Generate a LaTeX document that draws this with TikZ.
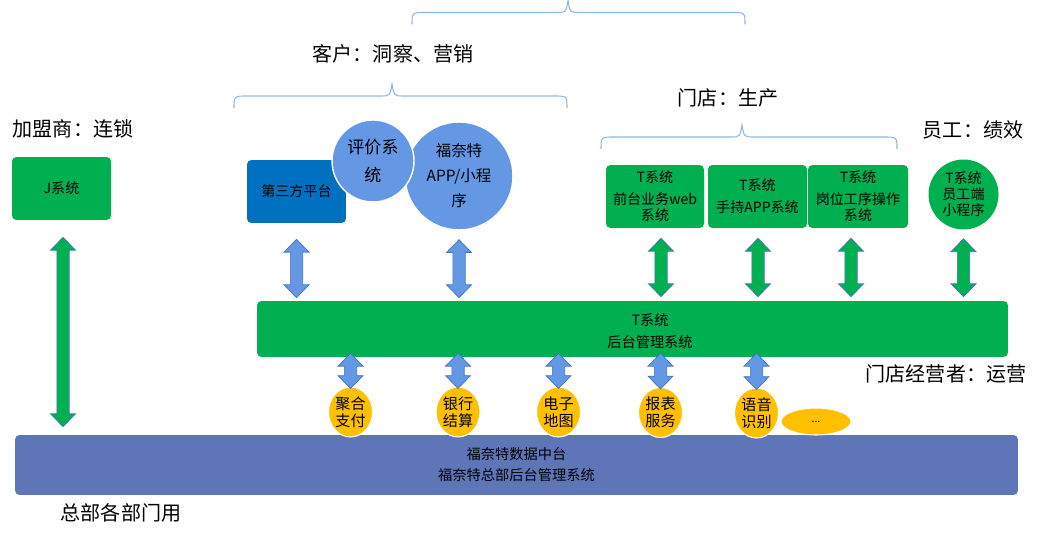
\documentclass[tikz,border=0pt]{standalone}
\usepackage{fontspec}
\setmainfont{Noto Sans CJK SC}
\usetikzlibrary{shapes,calc}

\definecolor{tgreen}{RGB}{0,176,80}
\definecolor{tpblue}{RGB}{0,112,192}
\definecolor{lightblue}{RGB}{100,152,228}
\definecolor{oyellow}{RGB}{255,192,0}
\definecolor{dataviolet}{RGB}{94,117,183}
\definecolor{arrline}{RGB}{68,114,196}
\definecolor{bracecol}{RGB}{143,180,235}

\newcommand{\arrhw}{7.1pt}
\newcommand{\arrhl}{7.3pt}
\newcommand{\arrsw}{3.5pt}

% double block arrow, x taken from the first point
\newcommand{\dblarrow}[3]{%
  \draw[blockarrow, fill=#3] let \p1=(#1), \p2=(#2) in
    (\x1,\y1) -- (\x1+\arrhw,\y1-\arrhl) -- (\x1+\arrsw,\y1-\arrhl) -- (\x1+\arrsw,\y2+\arrhl)
    -- (\x1+\arrhw,\y2+\arrhl) -- (\x1,\y2) -- (\x1-\arrhw,\y2+\arrhl) -- (\x1-\arrsw,\y2+\arrhl)
    -- (\x1-\arrsw,\y1-\arrhl) -- (\x1-\arrhw,\y1-\arrhl) -- cycle;}

% brace opening downwards: left x, right x, tip x, tip y
\newcommand{\topbrace}[4]{%
  \draw[bracestyle] (#1,#4+24) .. controls (#1,#4+12) .. (#1+14,#4+12) -- (#3-12,#4+12)
    .. controls (#3-2,#4+12) .. (#3,#4) .. controls (#3+2,#4+12) .. (#3+12,#4+12)
    -- (#2-14,#4+12) .. controls (#2,#4+12) .. (#2,#4+24);}

\tikzset{
  headtext/.style={font=\fontsize{11.4}{14}\selectfont},
  sysbox/.style={rectangle, rounded corners=2.5pt, fill=tgreen, minimum height=1.26cm,
    inner sep=1pt, align=center, font=\fontsize{8}{9.1}\selectfont},
  bluecircle/.style={circle, fill=lightblue, draw=white, line width=0.8pt, inner sep=0pt, align=center},
  tband/.style={rectangle, rounded corners=2.5pt, fill=tgreen, minimum width=15.02cm, minimum height=1.12cm},
  bandtext/.style={align=center, font=\fontsize{8.1}{12.5}\selectfont},
  databand/.style={rectangle, rounded corners=2.5pt, fill=dataviolet, minimum width=20.06cm,
    minimum height=1.2cm, align=center, font=\fontsize{8.1}{12}\selectfont},
  service/.style={ellipse, fill=oyellow, draw=white, line width=0.6pt, inner sep=0pt,
    minimum width=0.88cm, minimum height=1cm, align=center, font=\fontsize{8.6}{9.7}\selectfont},
  blockarrow/.style={draw=arrline, line width=0.4pt},
  bracestyle/.style={draw=bracecol, line width=0.6pt}
}

\begin{document}
\begin{tikzpicture}[x=0.02cm, y=-0.02cm]
\useasboundingbox (0,0) rectangle (1053,536);

% Braces
\topbrace{412}{745}{568}{0.5}
\topbrace{234}{567}{392}{84}
\topbrace{601}{897}{742}{125}

% Headings
\node[headtext] (jms) at (73,129) {加盟商：连锁};
\node[headtext] (kehu) at (393,54) {客户：洞察、营销};
\node[headtext] (mendian) at (728,98) {门店：生产};
\node[headtext] (yuangong) at (973,130) {员工：绩效};
\node[headtext] (jingying) at (946,374) {门店经营者：运营};
\node[headtext] (zongbu) at (121,513) {总部各部门用};

% Place nodes
\node[sysbox, minimum width=1.98cm] (j) at (61.5,188.5) {J系统};
\node[sysbox, fill=tpblue, minimum width=1.98cm] (tp) at (296.5,191.5) {第三方平台};
\node[bluecircle, minimum size=2.16cm, font=\fontsize{8.8}{14.2}\selectfont] (app) at (459,176) {福奈特\\APP/小程\\序};
\node[bluecircle, minimum size=1.64cm, font=\fontsize{9.7}{15.4}\selectfont] (pj) at (373,161) {评价系\\统};

\node[sysbox, minimum width=1.96cm] (b1) at (655,196.5) {T系统\\[3.4pt]前台业务web\\系统};
\node[sysbox, minimum width=1.98cm] (b2) at (757.5,196.5) {T系统\\[3.4pt]手持APP系统};
\node[sysbox, minimum width=2cm] (b3) at (858,196.5) {T系统\\[3.4pt]岗位工序操作\\系统};
\node[circle, fill=tgreen, inner sep=0pt, minimum size=1.4cm, align=center,
  font=\fontsize{8}{9.1}\selectfont] (yg) at (963.5,194.5) {T系统\\员工端\\小程序};

\node[databand] (data) at (516.5,465) {福奈特数据中台\\福奈特总部后台管理系统};
\node[tband] (tsys) at (632.5,329) {};
\node[bandtext] (tsystxt) at (650,331) {T系统\\后台管理系统};

\node[service] (pay) at (350.5,412) {聚合\\支付};
\node[service] (bank) at (458,412) {银行\\结算};
\node[service] (map) at (558.5,412) {电子\\地图};
\node[service] (report) at (660.5,412.5) {报表\\服务};
\node[service] (voice) at (756.5,413) {语音\\识别};
\node[service, minimum width=1.4cm, minimum height=0.54cm, font=\fontsize{6}{7}\selectfont] (more) at (816,421.5) {...};

% Arrows
\dblarrow{$(j.south)+(1.5,17)$}{$(data.north)+(0,-8)$}{tgreen}
\dblarrow{$(tp.south)+(0,16)$}{$(tsys.north)+(0,-3)$}{lightblue}
\dblarrow{$(app.south)+(0,9)$}{$(tsys.north)+(0,-3)$}{lightblue}
\dblarrow{$(b1.south)+(6,10)$}{$(tsys.north)+(0,-4)$}{tgreen}
\dblarrow{$(b2.south)+(0.5,10)$}{$(tsys.north)+(0,-4)$}{tgreen}
\dblarrow{$(b3.south)+(-7,10)$}{$(tsys.north)+(0,-4)$}{tgreen}
\dblarrow{$(yg.south)+(0,9)$}{$(tsys.north)+(0,-4)$}{tgreen}

\dblarrow{$(tsys.south -| pay)+(0,-4)$}{$(pay.north)+(0,2)$}{lightblue}
\dblarrow{$(tsys.south -| bank)+(0,-4)$}{$(bank.north)+(0,2)$}{lightblue}
\dblarrow{$(tsys.south -| map)+(0,-4)$}{$(map.north)+(0,2)$}{lightblue}
\dblarrow{$(tsys.south -| report)+(0,-4)$}{$(report.north)+(0,2)$}{lightblue}
\dblarrow{$(tsys.south -| voice)+(0,-4)$}{$(voice.north)+(0,2)$}{lightblue}

\end{tikzpicture}
\end{document}
